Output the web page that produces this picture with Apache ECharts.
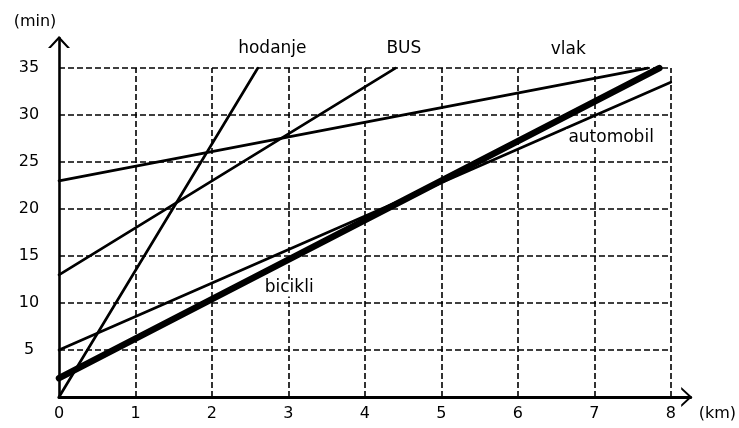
<!DOCTYPE html>
<html>
<head>
<meta charset="utf-8">
<script src="https://cdn.jsdelivr.net/npm/echarts@6/dist/echarts.min.js"></script>
<style>html,body{margin:0;padding:0;background:#fff}#c{width:739px;height:428px}</style>
</head>
<body>
<div id="c"></div>
<script>
// ---- data ----
const seriesNames = ['hodanje', 'BUS', 'vlak', 'automobil', 'bicikli'];
const startKm  = [0, 0, 0, 0, 0];
const startMin = [0, 13, 23, 5, 2];
const endKm    = [2.6, 4.4, 7.7, 8, 7.85];
const endMin   = [35, 35, 35, 33.5, 35];
const xTicks = [0, 1, 2, 3, 4, 5, 6, 7, 8];
const yTicks = [5, 10, 15, 20, 25, 30, 35];
// label anchor points (km, min)
const labelKm  = [2.79, 4.51, 6.66, 7.22, 3.01];
const labelMin = [37.1, 37.1, 37.0, 27.6, 11.6];

const xMax = 8.26, yMax = 38.2;
const gridXMax = 8, gridYMax = 35;
const FONT = '"DejaVu Sans", Arial, sans-serif';
const chevron = 'path://M0,12 L11,0 L22,12 L19.2,12 L11,3.2 L2.8,12 Z';

const gridLines = [];
xTicks.filter(v => v > 0).forEach(v => gridLines.push([{coord: [v, 0]}, {coord: [v, gridYMax]}]));
yTicks.forEach(v => gridLines.push([{coord: [0, v]}, {coord: [gridXMax, v]}]));

const series = [{
  type: 'line', data: [[0, 0]], symbol: 'none', lineStyle: {opacity: 0}, z: 1, silent: true,
  markLine: {
    silent: true, symbol: 'none', animation: false, z: 1,
    label: {show: false},
    lineStyle: {color: '#000', width: 1.6, type: [6, 3]},
    data: gridLines
  }
}];
seriesNames.forEach((n, i) => {
  series.push({
    name: n, type: 'line', symbol: 'none', z: 3,
    data: [[startKm[i], startMin[i]], [endKm[i], endMin[i]]],
    lineStyle: {color: '#000', width: n === 'bicikli' ? 6.5 : 2.7, cap: 'round'}
  });
});
series.push({
  type: 'scatter', symbolSize: 0, z: 4, silent: true,
  itemStyle: {opacity: 1, color: '#fff'},
  data: seriesNames.map((n, i) => ({value: [labelKm[i], labelMin[i]], name: n})),
  label: {show: true, position: 'inside', formatter: p => p.name, color: '#000', fontSize: 17, fontFamily: FONT,
    textBorderWidth: 0, backgroundColor: '#fff', padding: [0, 2]}
});

const chart = echarts.init(document.getElementById('c'), null, {renderer: 'canvas'});
chart.setOption({
  animation: false,
  backgroundColor: '#fff',
  grid: {left: 59, right: 46, top: 38, bottom: 31, containLabel: false},
  xAxis: {
    type: 'value', min: 0, max: xMax, interval: 1,
    name: '(km)', nameLocation: 'end', nameGap: 8,
    nameTextStyle: {color: '#000', fontSize: 16, fontFamily: FONT, verticalAlign: 'top', padding: [9, 0, 0, 0]},
    axisLine: {lineStyle: {color: '#000', width: 3}, symbol: ['none', chevron], symbolSize: [20, 11], symbolOffset: [0, -4]},
    axisTick: {show: false},
    splitLine: {show: false},
    axisLabel: {color: '#000', fontSize: 16, fontFamily: FONT, margin: 9, showMaxLabel: false}
  },
  yAxis: {
    type: 'value', min: 0, max: yMax, interval: 5,
    name: '(min)', nameLocation: 'end', nameGap: 8,
    nameTextStyle: {color: '#000', fontSize: 16, fontFamily: FONT, align: 'center', padding: [0, 48, 0, 0]},
    axisLine: {lineStyle: {color: '#000', width: 2.6}, symbol: ['none', chevron], symbolSize: [22, 12], symbolOffset: [0, -4]},
    axisTick: {show: false},
    splitLine: {show: false},
    axisLabel: {color: '#000', fontSize: 16, fontFamily: FONT, margin: 30, align: 'center', showMaxLabel: false,
      formatter: v => (v === 0 ? '' : String(v))}
  },
  series: series
});
</script>
</body>
</html>
